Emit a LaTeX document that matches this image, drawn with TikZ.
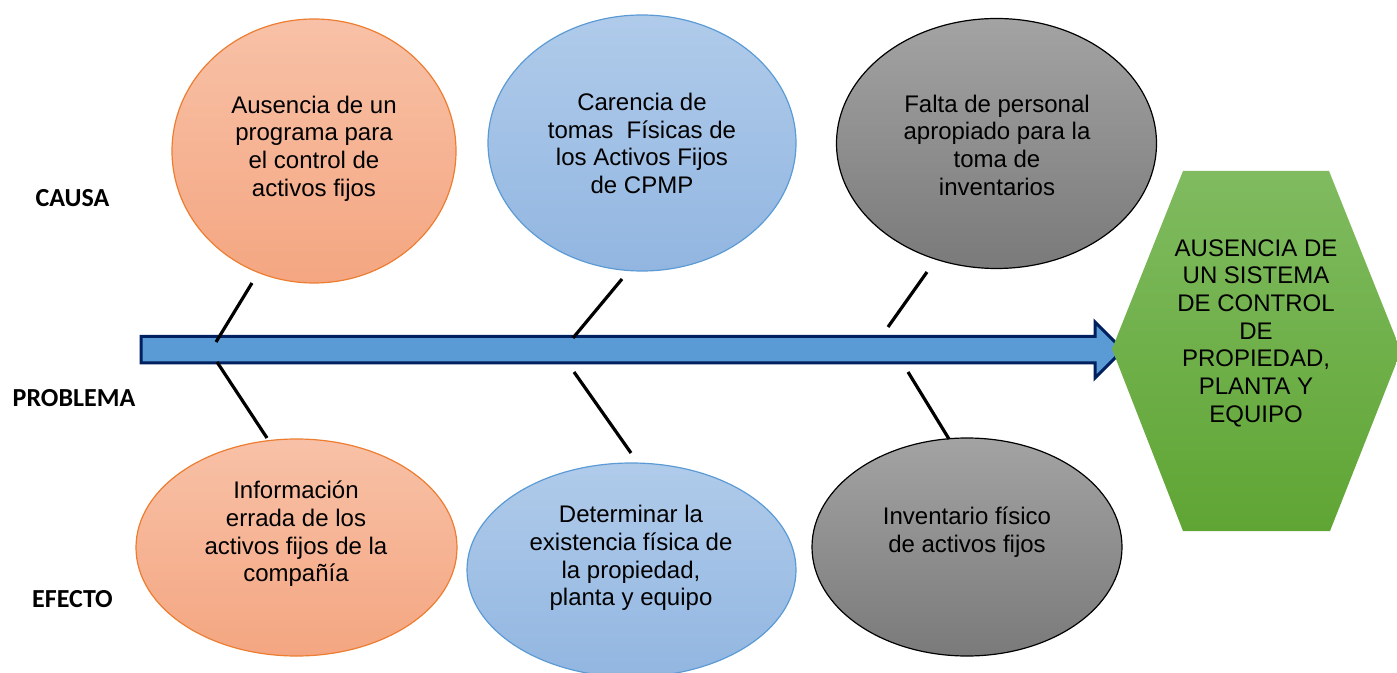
\documentclass[tikz,border=0pt]{standalone}
\usepackage{fontspec}
\setmainfont{Liberation Sans}
\newfontfamily\tagfont{Carlito}
\usetikzlibrary{shapes.geometric}

\definecolor{naranjaborde}{RGB}{237,125,49}
\definecolor{naranjaA}{RGB}{248,193,167}
\definecolor{naranjaB}{RGB}{244,166,129}
\definecolor{azulborde}{RGB}{91,155,213}
\definecolor{azulA}{RGB}{176,203,234}
\definecolor{azulB}{RGB}{146,182,225}
\definecolor{grisA}{RGB}{163,163,163}
\definecolor{grisB}{RGB}{122,122,122}
\definecolor{verdeA}{RGB}{128,187,96}
\definecolor{verdeB}{RGB}{95,165,52}
\definecolor{flechaborde}{RGB}{0,32,96}

\tikzstyle{causa}=[ellipse, inner sep=0pt, line width=0.6pt]
\tikzstyle{naranja}=[causa, draw=naranjaborde, top color=naranjaA, bottom color=naranjaB]
\tikzstyle{azul}=[causa, draw=azulborde, top color=azulA, bottom color=azulB]
\tikzstyle{gris}=[causa, draw=black, top color=grisA, bottom color=grisB]
\tikzstyle{texto}=[align=center, inner sep=0pt, font=\fontsize{12}{13.85}\selectfont]
\tikzstyle{etiqueta}=[inner sep=0pt, font=\tagfont\fontsize{13}{15}\selectfont\bfseries]
\tikzstyle{espina}=[line width=1.6pt, black]

\begin{document}
\begin{tikzpicture}[x=0.5pt, y=-0.5pt]
	\useasboundingbox (0,0) rectangle (1397,673);
	%labels
	\node[etiqueta] (causa) at (72.5,198) {CAUSA};
	\node[etiqueta] (problema) at (74,398) {PROBLEMA};
	\node[etiqueta] (efecto) at (72.5,599) {EFECTO};
	%arrow
	\draw[line width=1.5pt, draw=flechaborde, fill=azulborde, line join=miter]
	(141,336.5) -- (1095,336.5) -- (1095,322) -- (1123,350)
	-- (1095,378) -- (1095,363) -- (141,363) -- cycle;
	%result
	\shade[top color=verdeA, bottom color=verdeB]
	(1112,349) -- (1183,171) -- (1329,171) -- (1401,351)
	-- (1330,531) -- (1183,531) -- cycle;
	\node[texto] (problemaTxt) at (1256,333)
	{AUSENCIA DE\\UN SISTEMA\\DE CONTROL\\DE\\PROPIEDAD,\\PLANTA Y\\EQUIPO};
	%causes
	\node[naranja, minimum width=142pt, minimum height=132pt] (causaA) at (314,151) {};
	\node[azul, minimum width=154pt, minimum height=128pt] (causaB) at (642,143) {};
	\node[gris, minimum width=160pt, minimum height=125pt] (causaC) at (996.5,143.5) {};
	\node[texto] (causaAtxt) at (314,148.5)
	{Ausencia de un\\programa para\\el control de\\activos fijos};
	\node[texto] (causaBtxt) at (642,143.5)
	{Carencia de\\tomas\ \ Físicas de\\los Activos Fijos\\de CPMP};
	\node[texto] (causaCtxt) at (997,145)
	{Falta de personal\\apropiado para la\\toma de\\inventarios};
	%effects
	\node[naranja, minimum width=160.5pt, minimum height=108.5pt] (efectoA) at (296.5,547.5) {};
	\node[azul, minimum width=164.5pt, minimum height=107pt] (efectoB) at (631.5,570) {};
	\node[gris, minimum width=155pt, minimum height=109pt] (efectoC) at (967,547) {};
	\node[texto] (efectoAtxt) at (296,534)
	{Información\\errada de los\\activos fijos de la\\compañía};
	\node[texto] (efectoBtxt) at (631,558)
	{Determinar la\\existencia física de\\la propiedad,\\planta y equipo};
	\node[texto] (efectoCtxt) at (967,532.5)
	{Inventario físico\\de activos fijos};
	%bones
	\coordinate (a1) at (252,283);
	\coordinate (a2) at (216,342);
	\coordinate (a3) at (217,362);
	\coordinate (a4) at (267,438);
	\coordinate (b1) at (622,279);
	\coordinate (b2) at (573,338);
	\coordinate (b3) at (574,372);
	\coordinate (b4) at (631,453);
	\coordinate (c1) at (927,272);
	\coordinate (c2) at (888,327);
	\coordinate (c3) at (908,372);
	\coordinate (c4) at (949,439);
	\foreach \p/\q in {a1/a2, a3/a4, b1/b2, b3/b4, c1/c2, c3/c4}
	\draw[espina] (\p) -- (\q);
\end{tikzpicture}
\end{document}
